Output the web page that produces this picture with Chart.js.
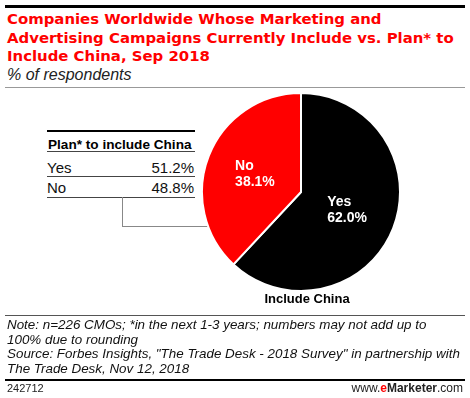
<!DOCTYPE html>
<html><head><meta charset="utf-8">
<script src="https://cdn.jsdelivr.net/npm/chart.js@4"></script>
<style>
html,body{margin:0;padding:0;background:#fff;}
#wrap{position:relative;width:470px;height:398px;overflow:hidden;font-family:"Liberation Sans",Arial,sans-serif;}
.abs{position:absolute;white-space:nowrap;}
.hr{position:absolute;left:5px;width:460px;}
#title{left:7px;top:10px;color:#ff0000;font-family:"DejaVu Sans",sans-serif;font-weight:bold;font-size:14.9px;line-height:18.5px;}
#sub{left:7px;top:66px;font-style:italic;font-size:16px;line-height:18px;color:#222;}
.tl{position:absolute;left:47px;width:148px;height:1px;background:#444;}
.tt{position:absolute;font-family:"Liberation Sans Narrow","Liberation Sans",Arial,sans-serif;font-size:15px;line-height:16px;color:#111;white-space:nowrap;}
#notes{left:7px;top:318px;font-style:italic;font-size:13.4px;line-height:14.5px;color:#111;}
#canvasBox{position:absolute;left:201px;top:92px;width:200px;height:200px;}
#inc{left:247px;top:291px;width:120px;text-align:center;font-weight:bold;font-size:13px;line-height:16px;}
</style></head>
<body>
<div id="wrap">
  <div class="hr" style="top:5px;height:3px;background:#000;"></div>
  <div id="title" class="abs">Companies Worldwide Whose Marketing and<br>Advertising Campaigns Currently Include vs. Plan* to<br>Include China, Sep 2018</div>
  <div id="sub" class="abs">% of respondents</div>
  <div class="hr" style="top:87px;height:1px;background:#999;"></div>

  <div class="tl" style="top:130px;height:2px;background:#000;"></div>
  <div class="tt" style="left:48px;top:137px;font-family:'Liberation Sans',Arial,sans-serif;font-weight:bold;font-size:13.6px;color:#000;">Plan* to include China</div>
  <div class="tl" style="top:151px;"></div>
  <div class="tt" id="l0" style="left:47px;top:160px;"></div>
  <div class="tt" id="v0" style="right:276px;top:160px;"></div>
  <div class="tl" style="top:176px;"></div>
  <div class="tt" id="l1" style="left:47px;top:180px;"></div>
  <div class="tt" id="v1" style="right:276px;top:180px;"></div>
  <div class="tl" style="top:197px;"></div>
  <div class="abs" style="left:122px;top:197px;width:1px;height:29px;background:#888;"></div>
  <div class="abs" style="left:122px;top:226px;width:86px;height:1px;background:#888;"></div>

  <div id="canvasBox"><canvas id="c"></canvas></div>
  <div id="inc" class="abs">Include China</div>

  <div class="hr" style="top:315px;height:1px;background:#555;"></div>
  <div id="notes" class="abs">Note: n=226 CMOs; *in the next 1-3 years; numbers may not add up to<br>100% due to rounding<br>Source: Forbes Insights, "The Trade Desk - 2018 Survey" in partnership with<br>The Trade Desk, Nov 12, 2018</div>
  <div class="hr" style="top:379px;height:2px;background:#000;"></div>
  <div class="abs" style="left:7px;top:382px;font-size:11px;line-height:13px;color:#222;">242712</div>
  <div class="abs" style="right:7px;top:381px;font-size:12px;line-height:14px;color:#222;">www.<span style="color:#ff0000;font-weight:bold;">e</span><b>Marketer</b>.com</div>
</div>
<script>
const pieLabels = ["Yes", "No"];
const pieValues = [62.0, 38.1];
const pieColors = ["#000000", "#ff0000"];
const planLabels = ["Yes", "No"];
const planValues = [51.2, 48.8];

planLabels.forEach((l, i) => {
  document.getElementById("l" + i).textContent = l;
  document.getElementById("v" + i).textContent = planValues[i].toFixed(1) + "%";
});

const labelPlugin = {
  id: "sliceLabels",
  afterDatasetsDraw(chart) {
    const ctx = chart.ctx;
    const meta = chart.getDatasetMeta(0);
    ctx.save();
    ctx.fillStyle = "#fff";
    ctx.font = "bold 14px 'Liberation Sans', Arial, sans-serif";
    ctx.textBaseline = "middle";
    ctx.textAlign = "left";
    meta.data.forEach((arc, i) => {
      const p = arc.tooltipPosition();
      const l1 = pieLabels[i];
      const l2 = pieValues[i].toFixed(1) + "%";
      const w = Math.max(ctx.measureText(l1).width, ctx.measureText(l2).width);
      const x = p.x - w / 2;
      ctx.fillText(l1, x, p.y - 8);
      ctx.fillText(l2, x, p.y + 8);
    });
    ctx.restore();
  }
};

new Chart(document.getElementById("c"), {
  type: "pie",
  data: {
    labels: pieLabels,
    datasets: [{ data: pieValues, backgroundColor: pieColors, borderColor: "#fff", borderWidth: 2, hoverOffset: 0 }]
  },
  options: {
    responsive: true,
    maintainAspectRatio: false,
    animation: false,
    layout: { padding: 0 },
    plugins: { legend: { display: false }, tooltip: { enabled: false } },
    events: []
  },
  plugins: [labelPlugin]
});
</script>
</body></html>
